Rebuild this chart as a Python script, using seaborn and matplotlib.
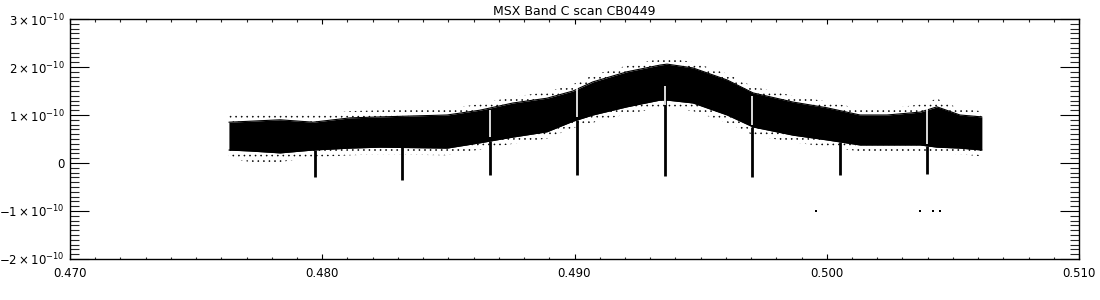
import numpy as np
import pandas as pd
import matplotlib
matplotlib.use("Agg")
import matplotlib.pyplot as plt
from matplotlib.ticker import MultipleLocator, FixedLocator, FuncFormatter
import seaborn as sns

# ---- data (y in units of 1e-10) ----
scan_x = [0.47630, 0.47714, 0.47833, 0.47963, 0.48110, 0.48229, 0.48495, 0.48625,
          0.48756, 0.48891, 0.48994, 0.49073, 0.49208, 0.49339, 0.49367, 0.49470,
          0.49605, 0.49708, 0.49866, 0.50001, 0.50132, 0.50239, 0.50370, 0.50437,
          0.50528, 0.50615]
band_top = [0.85, 0.87, 0.90, 0.85, 0.94, 0.96, 1.00, 1.10,
            1.25, 1.35, 1.50, 1.69, 1.90, 2.04, 2.06, 1.98,
            1.73, 1.46, 1.27, 1.15, 1.00, 1.00, 1.06, 1.17,
            1.00, 0.96]
band_bottom = [0.27, 0.25, 0.21, 0.27, 0.31, 0.33, 0.31, 0.42,
               0.54, 0.65, 0.87, 1.00, 1.17, 1.31, 1.31, 1.25,
               1.00, 0.75, 0.58, 0.48, 0.375, 0.375, 0.375, 0.33,
               0.31, 0.27]
fringe_top = [1.00, 1.03, 1.05, 1.00, 1.08, 1.10, 1.13, 1.23,
              1.38, 1.48, 1.64, 1.83, 2.03, 2.17, 2.19, 2.10,
              1.86, 1.59, 1.40, 1.28, 1.13, 1.13, 1.22, 1.34,
              1.13, 1.08]
fringe_bottom = [0.10, 0.02, 0.02, 0.12, 0.16, 0.18, 0.16, 0.28,
                 0.40, 0.51, 0.73, 0.84, 1.02, 1.15, 1.15, 1.08,
                 0.84, 0.58, 0.43, 0.34, 0.24, 0.23, 0.23, 0.20,
                 0.18, 0.14]

dip_x = [0.47971, 0.48316, 0.48665, 0.49011, 0.49359, 0.49704, 0.50053, 0.50399]
dip_min = [-0.30, -0.35, -0.24, -0.24, -0.27, -0.30, -0.25, -0.23]
gap_x = [0.48665, 0.49011, 0.49359, 0.49704, 0.50399]
gap_top = [1.10, 1.60, 1.60, 1.40, 1.30]
gap_bottom = [0.55, 0.95, 1.20, 0.80, 0.40]

stray_x = [0.49957, 0.50370, 0.50421, 0.50449]
stray_y = [-1.00, -1.00, -1.00, -1.00]

title = "MSX Band C scan CB0449"
x_ticks = [0.470, 0.480, 0.490, 0.500, 0.510]
y_ticks = [-2, -1, 0, 1, 2, 3]

# ---- plot ----
sns.set_theme(style="white")
plt.rcParams["font.family"] = ["DejaVu Sans"]
plt.rcParams["hatch.linewidth"] = 0.4

fig = plt.figure(figsize=(11, 3), dpi=100)
ax = fig.add_axes([70 / 1100, 41 / 300, 1009 / 1100, 240 / 300])

scale = 1e-10
df = pd.DataFrame({"x": scan_x,
                   "top": np.array(band_top) * scale,
                   "bottom": np.array(band_bottom) * scale,
                   "ftop": np.array(fringe_top) * scale,
                   "fbot": np.array(fringe_bottom) * scale})

# speckled fringe
ax.fill_between(df["x"], df["top"], df["ftop"], facecolor="white",
                edgecolor="black", hatch="...", linewidth=0)
ax.fill_between(df["x"], df["fbot"], df["bottom"], facecolor="white",
                edgecolor="black", hatch="...", linewidth=0)
# dense core
ax.fill_between(df["x"], df["bottom"], df["top"], color="black", linewidth=0)
sns.lineplot(data=df, x="x", y="top", color="black", lw=0.8, ax=ax)
sns.lineplot(data=df, x="x", y="bottom", color="black", lw=0.8, ax=ax)

# dips
bottom_at_dip = np.interp(dip_x, scan_x, band_bottom)
ax.vlines(dip_x, np.array(dip_min) * scale, bottom_at_dip * scale,
          color="black", lw=2)
# white gaps in band
ax.vlines(gap_x, np.array(gap_bottom) * scale, np.array(gap_top) * scale,
          color="white", lw=1.2)
# stray points
sns.scatterplot(x=stray_x, y=np.array(stray_y) * scale, color="black",
                s=3, marker="s", linewidth=0, ax=ax)

ax.set_xlim(0.470, 0.510)
ax.set_ylim(-2e-10, 3e-10)
ax.xaxis.set_major_locator(FixedLocator(x_ticks))
ax.xaxis.set_minor_locator(MultipleLocator(0.001))
ax.yaxis.set_major_locator(FixedLocator([v * scale for v in y_ticks]))
ax.yaxis.set_minor_locator(MultipleLocator(0.1e-10))
ax.xaxis.set_major_formatter(FuncFormatter(lambda v, p: f"{v:.3f}"))


def yfmt(v, p):
    n = int(round(v / scale))
    if n == 0:
        return "0"
    return r"$%d\times10^{-10}$" % n


ax.yaxis.set_major_formatter(FuncFormatter(yfmt))
ax.tick_params(axis="y", which="major", direction="in", length=13.7, width=0.8,
               left=True, right=True, labelsize=8.5, pad=4, colors="black")
ax.tick_params(axis="y", which="minor", direction="in", length=6.5, width=0.8,
               left=True, right=True)
ax.tick_params(axis="x", which="major", direction="in", length=3.5, width=0.8,
               bottom=True, top=True, labelsize=8.5, pad=6, colors="black")
ax.tick_params(axis="x", which="minor", direction="in", length=1.8, width=0.8,
               bottom=True, top=True)
for s in ax.spines.values():
    s.set_color("black")
    s.set_linewidth(1.0)
ax.set_xlabel("")
ax.set_ylabel("")
ax.set_title(title, fontsize=9, pad=3, color="black")

fig.savefig("out.png", dpi=100, facecolor="white")
